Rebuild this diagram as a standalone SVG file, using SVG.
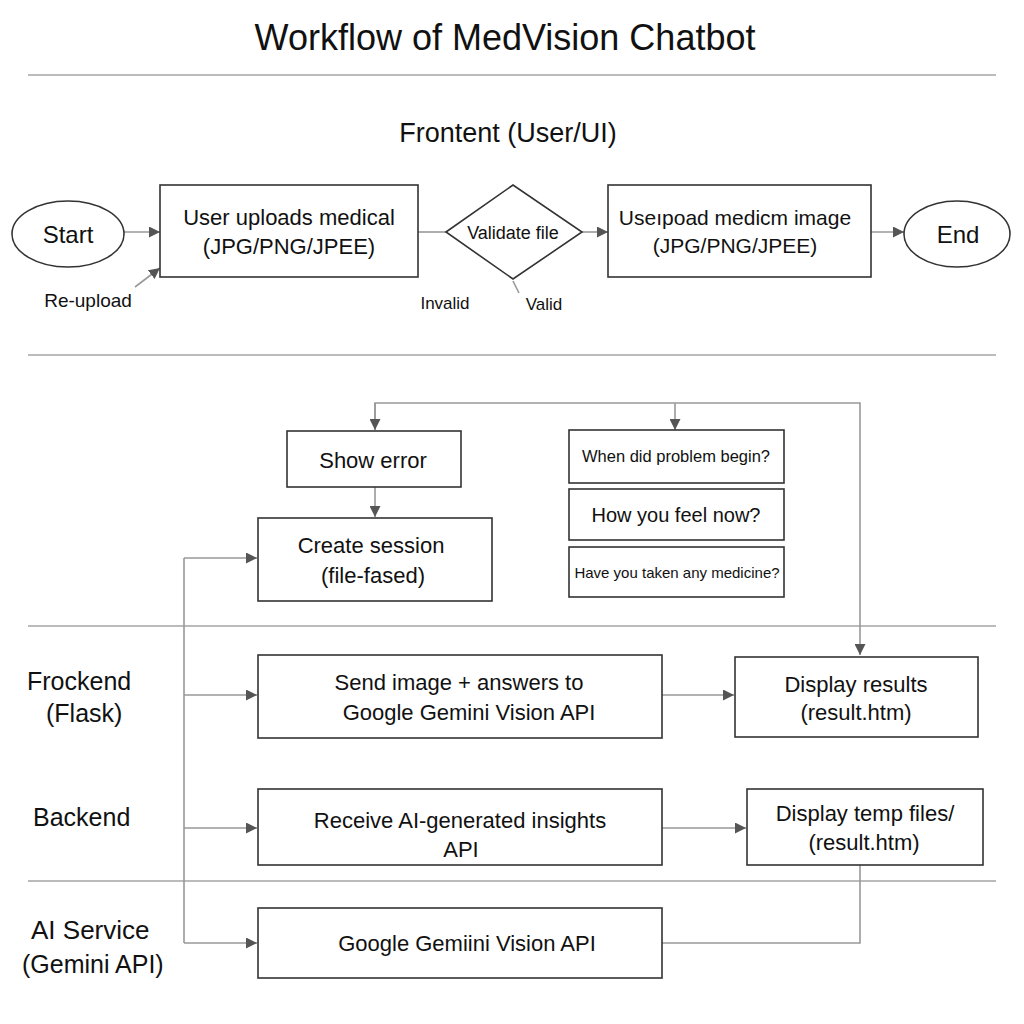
<svg xmlns="http://www.w3.org/2000/svg" width="1024" height="1024" viewBox="0 0 1024 1024">
<defs>
<marker id="arr" viewBox="0 0 10 10" refX="10" refY="5" markerWidth="11" markerHeight="11" markerUnits="userSpaceOnUse" orient="auto">
<path d="M0,0 L10,5 L0,10 Z" fill="#555"/>
</marker>
<style>
text{font-family:"Liberation Sans",Arial,sans-serif;fill:#111;text-anchor:middle}
.box{fill:#fff;stroke:#333;stroke-width:1.6}
.lane{stroke:#bbb;stroke-width:2;fill:none}
.conn{stroke:#999;stroke-width:1.6;fill:none}
.t22{font-size:22px}
.lbl{font-size:25px;text-anchor:start}
</style>
</defs>
<rect width="1024" height="1024" fill="#fff"/>
<text x="505" y="50" font-size="36">Workflow of MedVision Chatbot</text>
<g id="lanes">
<line class="lane" x1="28" y1="75" x2="996" y2="75"/>
<line class="lane" x1="28" y1="355" x2="996" y2="355"/>
<line class="lane" x1="28" y1="626" x2="996" y2="626"/>
<line class="lane" x1="28" y1="881" x2="996" y2="881"/>
</g>
<text x="508" y="142" font-size="27">Frontent (User/UI)</text>
<text class="lbl" x="27" y="690">Frockend</text>
<text class="lbl" x="46" y="722">(Flask)</text>
<text class="lbl" x="33" y="826">Backend</text>
<text class="lbl" x="31" y="939" style="font-size:26px">AI Service</text>
<text class="lbl" x="22" y="973">(Gemini API)</text>

<g id="connectors">
<line class="conn" x1="124" y1="232" x2="160" y2="232" marker-end="url(#arr)"/>
<line class="conn" x1="135" y1="287" x2="160" y2="268" marker-end="url(#arr)"/>
<line class="conn" x1="418" y1="232" x2="446" y2="232"/>
<line class="conn" x1="582" y1="232" x2="608" y2="232" marker-end="url(#arr)"/>
<line class="conn" x1="871" y1="232" x2="904" y2="232" marker-end="url(#arr)"/>
<line class="conn" x1="513" y1="281" x2="519" y2="293"/>
<polyline class="conn" points="375,430 375,403 860,403 860,655" marker-end="url(#arr)"/>
<line class="conn" x1="375" y1="403" x2="375" y2="430" marker-end="url(#arr)"/>
<line class="conn" x1="675" y1="403" x2="675" y2="430" marker-end="url(#arr)"/>
<line class="conn" x1="375" y1="487" x2="375" y2="517" marker-end="url(#arr)"/>
<line class="conn" x1="184" y1="558" x2="184" y2="943"/>
<line class="conn" x1="184" y1="558" x2="257" y2="558" marker-end="url(#arr)"/>
<line class="conn" x1="184" y1="695" x2="257" y2="695" marker-end="url(#arr)"/>
<line class="conn" x1="184" y1="828" x2="257" y2="828" marker-end="url(#arr)"/>
<line class="conn" x1="184" y1="943" x2="257" y2="943" marker-end="url(#arr)"/>
<line class="conn" x1="662" y1="695" x2="734" y2="695" marker-end="url(#arr)"/>
<line class="conn" x1="662" y1="828" x2="746" y2="828" marker-end="url(#arr)"/>
<polyline class="conn" points="662,943 860,943 860,865"/>
</g>

<g id="start">
<ellipse class="box" cx="68" cy="234" rx="56" ry="33"/>
<text x="68" y="243" font-size="24">Start</text>
</g>
<g id="upload">
<rect class="box" x="160" y="185" width="258" height="92"/>
<text class="t22" x="289" y="225">User uploads medical</text>
<text class="t22" x="289" y="254">(JPG/PNG/JPEE)</text>
</g>
<g id="reupload-label"><text x="88" y="307" font-size="19">Re-upload</text></g>
<g id="validate">
<polygon class="box" points="446,232 513,185 582,232 513,279"/>
<text x="513" y="239" font-size="18">Validate file</text>
</g>
<text x="445" y="309" font-size="17">Invalid</text>
<text x="544" y="310" font-size="17">Valid</text>
<g id="upload2">
<rect class="box" x="608" y="185" width="263" height="92"/>
<text x="735" y="225" font-size="21">Useıpoad medicm image</text>
<text x="735" y="253" font-size="21">(JPG/PNG/JPEE)</text>
</g>
<g id="end">
<ellipse class="box" cx="957" cy="234" rx="53" ry="33"/>
<text x="958" y="243" font-size="24">End</text>
</g>

<g id="show-error">
<rect class="box" x="287" y="431" width="174" height="56"/>
<text class="t22" x="373" y="468">Show error</text>
</g>
<g id="create-session">
<rect class="box" x="258" y="518" width="234" height="83"/>
<text class="t22" x="371" y="553">Create session</text>
<text class="t22" x="373" y="583">(file-fased)</text>
</g>
<g id="q1">
<rect class="box" x="569" y="430" width="215" height="53"/>
<text x="676" y="462" font-size="16.5">When did problem begin?</text>
</g>
<g id="q2">
<rect class="box" x="569" y="489" width="215" height="51"/>
<text x="676" y="522" font-size="20">How you feel now?</text>
</g>
<g id="q3">
<rect class="box" x="569" y="547" width="215" height="50"/>
<text x="677" y="578" font-size="15">Have you taken any medicine?</text>
</g>

<g id="send">
<rect class="box" x="258" y="655" width="404" height="83"/>
<text class="t22" x="459" y="690">Send image + answers to</text>
<text class="t22" x="469" y="720">Google Gemini Vision API</text>
</g>
<g id="display-results">
<rect class="box" x="735" y="657" width="243" height="80"/>
<text class="t22" x="856" y="692">Display results</text>
<text class="t22" x="856" y="720">(result.htm)</text>
</g>
<g id="receive">
<rect class="box" x="258" y="789" width="404" height="76"/>
<text class="t22" x="460" y="828">Receive AI-generated insights</text>
<text class="t22" x="461" y="857">API</text>
</g>
<g id="display-temp">
<rect class="box" x="747" y="789" width="236" height="76"/>
<text class="t22" x="865" y="821">Display temp files/</text>
<text class="t22" x="864" y="850">(result.htm)</text>
</g>
<g id="gemini">
<rect class="box" x="258" y="908" width="404" height="70"/>
<text class="t22" x="467" y="951">Google Gemiini Vision API</text>
</g>
</svg>
